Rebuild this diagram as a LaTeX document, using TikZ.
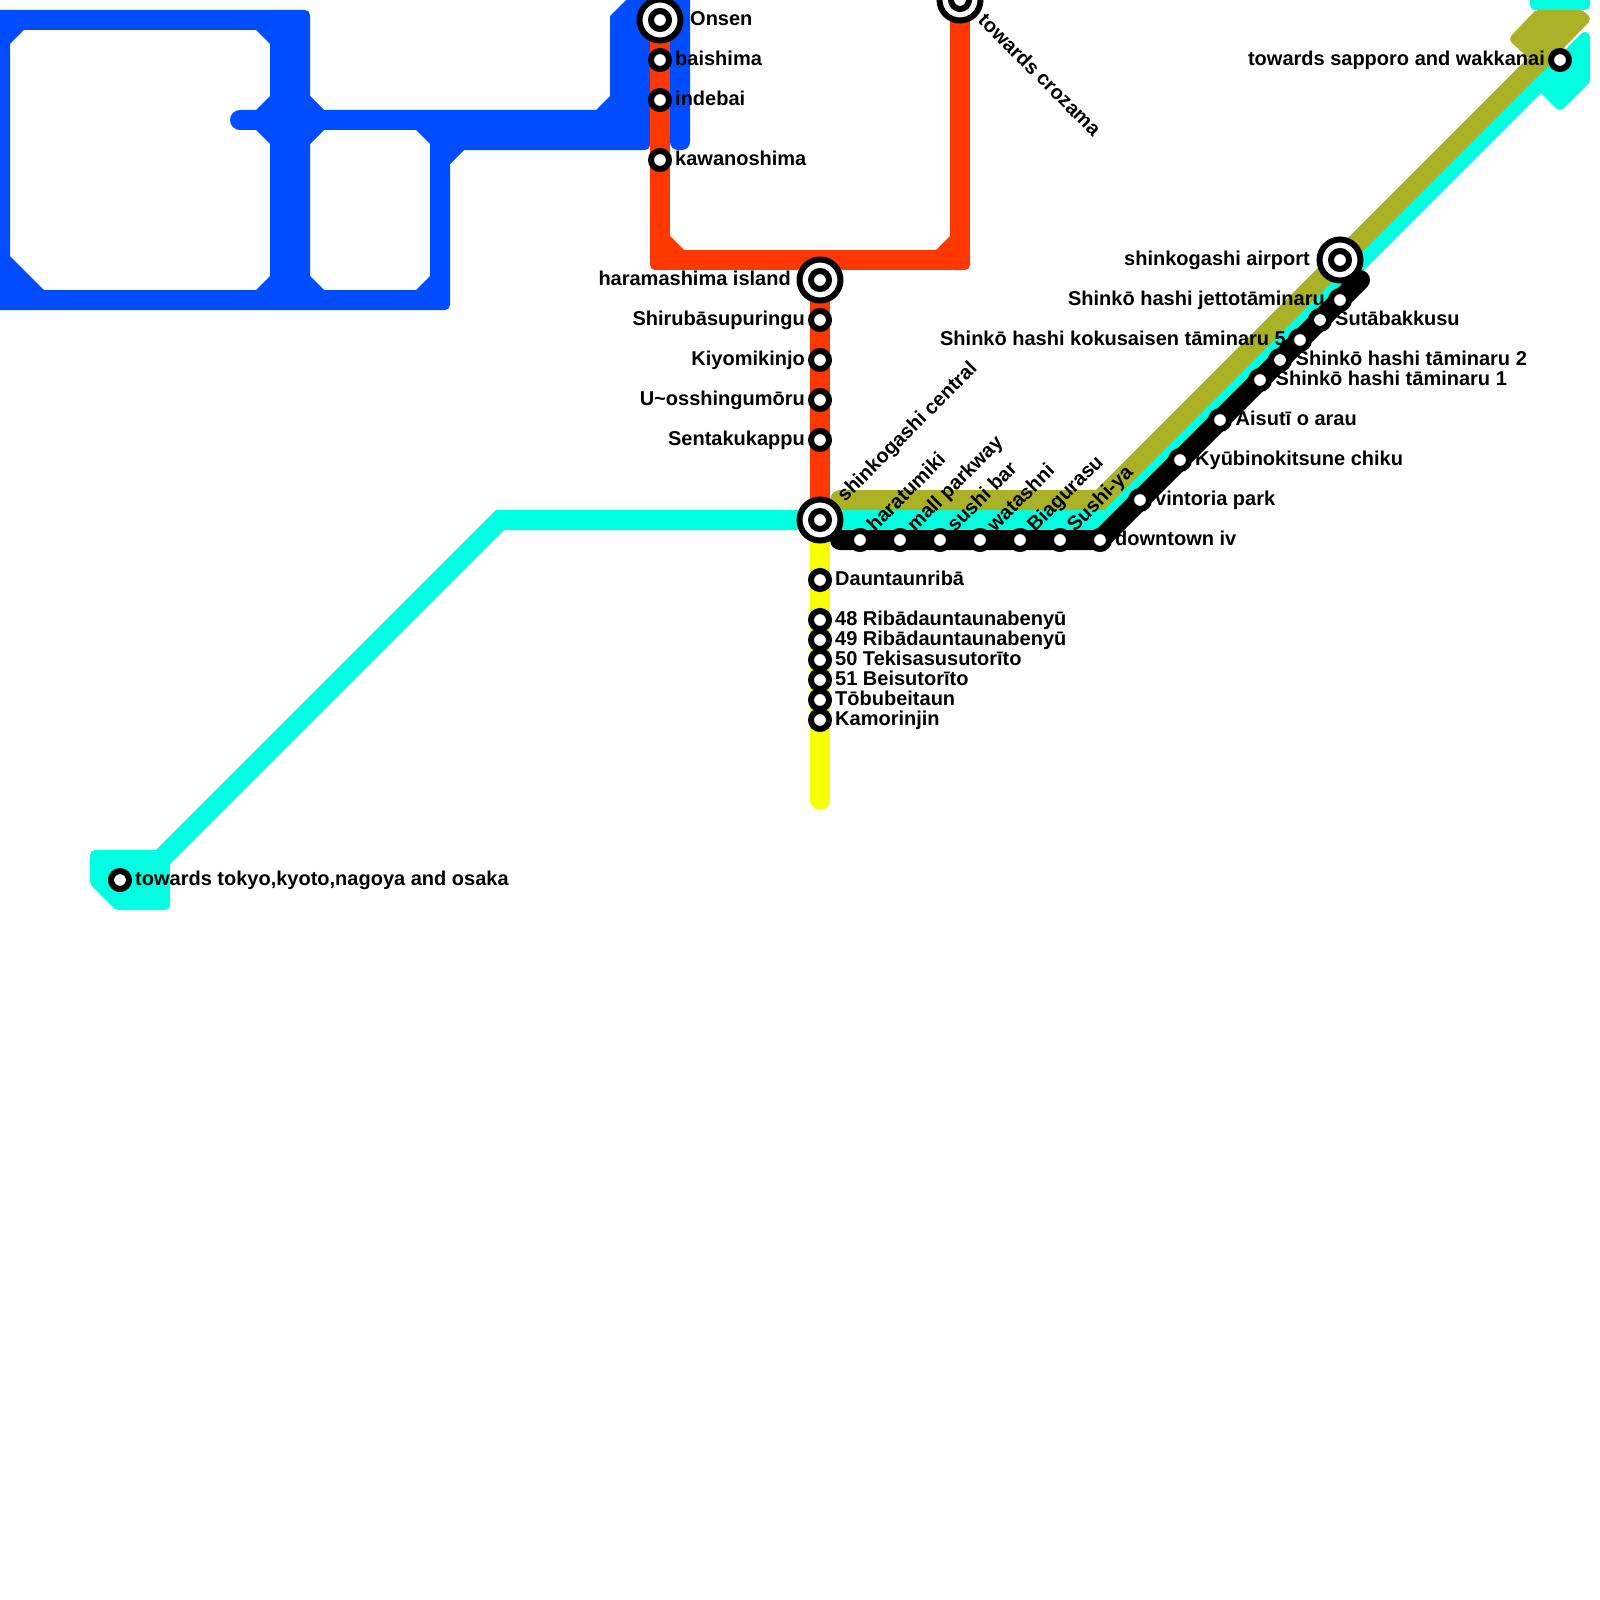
\documentclass[tikz,border=0pt]{standalone}
\usepackage{fontspec}
\setmainfont{Liberation Sans}
\pgfdeclarelayer{lines}
\pgfsetlayers{lines,main}
\definecolor{mblue}{HTML}{004DFF}
\definecolor{mred}{HTML}{FF3800}
\definecolor{mcyan}{HTML}{00FFE1}
\definecolor{molive}{HTML}{AAB126}
\definecolor{myellow}{HTML}{F8FF00}
\tikzset{
  st/.style={circle,draw=black,fill=white,line width=6pt,inner sep=0pt,minimum size=18pt},
  hub/.style={circle,draw=black,fill=white,line width=6pt,inner sep=0pt,minimum size=41pt},
  route/.style={line width=20pt,line join=miter,line cap=round},
  blob/.style={line width=10pt,line join=round},
  lab/.style={font=\fontsize{20}{20}\selectfont\bfseries,text=black,inner sep=0pt,yshift=-0.7pt},
  labr/.style={lab,anchor=base west},
  labl/.style={lab,anchor=base east},
  labup/.style={lab,anchor=base west,rotate=45},
  labdn/.style={lab,anchor=base west,rotate=-45}
}
\newcommand{\elbow}[5]{%
  \fill[#1,rounded corners=5pt] ({#2-10},{#3-10}) rectangle ({#2+10},{#3+10});
  \fill[#1] ({#2-#4*10},{#3-#5*10}) -- ({#2-#4*10},{#3-#5*24}) -- ({#2-#4*24},{#3-#5*10}) -- cycle;
}
\begin{document}
\begin{tikzpicture}[x=1pt,y=-1pt]
\useasboundingbox (0,0) rectangle (1600,1600);

% stations
\node[hub] (onsen) at (660,20) {};
\node[st] (onsenin) at (660,20) {};
\node[st] (baishima) at (660,60) {};
\node[st] (indebai) at (660,100) {};
\node[st] (kawanoshima) at (660,160) {};
\node[hub] (crozama) at (960,0) {};
\node[st] (crozamain) at (960,0) {};
\node[hub] (haramashima) at (820,280) {};
\node[st] (haramashimain) at (820,280) {};
\node[st] (shiru) at (820,320) {};
\node[st] (kiyomi) at (820,360) {};
\node[st] (uoss) at (820,400) {};
\node[st] (senta) at (820,440) {};
\node[hub] (central) at (820,520) {};
\node[st] (centralin) at (820,520) {};
\node[st] (daun) at (820,580) {};
\node[st] (s48) at (820,620) {};
\node[st] (s49) at (820,640) {};
\node[st] (s50) at (820,660) {};
\node[st] (s51) at (820,680) {};
\node[st] (tobu) at (820,700) {};
\node[st] (kamo) at (820,720) {};
\node[st] (haratumiki) at (860,540) {};
\node[st] (mall) at (900,540) {};
\node[st] (sushibar) at (940,540) {};
\node[st] (watashni) at (980,540) {};
\node[st] (biagurasu) at (1020,540) {};
\node[st] (sushiya) at (1060,540) {};
\node[st] (downtown) at (1100,540) {};
\node[st] (vintoria) at (1140,500) {};
\node[st] (kyubi) at (1180,460) {};
\node[st] (aisuti) at (1220,420) {};
\node[st] (tam1) at (1260,380) {};
\node[st] (tam2) at (1280,360) {};
\node[st] (tam5) at (1300,340) {};
\node[st] (sutaba) at (1320,320) {};
\node[st] (jetto) at (1340,300) {};
\node[hub] (airport) at (1340,260) {};
\node[st] (airportin) at (1340,260) {};
\node[st] (sapporo) at (1560,60) {};
\node[st] (tokyo) at (120,880) {};

% free ends and bends
\coordinate (redsw) at (660,260);
\coordinate (redmid) at (820,260);
\coordinate (redse) at (960,260);
\coordinate (cyanbend) at (500,520);
\coordinate (cyanend) at (160,860);
\coordinate (cyanelbow) at (1100,520);
\coordinate (olivestart) at (840,500);
\coordinate (olivebend) at (1100,500);
\coordinate (oliveend) at (1540,60);
\coordinate (blackstart) at (840,540);
\coordinate (blackend) at (1360,280);
\coordinate (yellowend) at (820,800);

\begin{pgfonlayer}{lines}
\fill[white] (0,0) rectangle (1600,1600);
% blue network
\fill[mblue,even odd rule]
  (-20,10) [rounded corners=5pt] -- (310,10) [sharp corners] -- (310,96) -- (324,110) -- (596,110) -- (610,96) -- (610,16) -- (631,-5) -- (690,-5)
  [rounded corners=8pt] -- (690,150) -- (670,150) [sharp corners] -- (670,100) -- (650,100)
  [rounded corners=5pt] -- (650,150) [sharp corners] -- (464,150) -- (450,164)
  [rounded corners=5pt] -- (450,310) [sharp corners] -- (-20,310) -- cycle
  (10,44) -- (24,30) -- (256,30) -- (270,44) -- (270,276) -- (256,290) -- (44,290) -- (10,256) -- cycle
  (310,144) -- (324,130) -- (416,130) -- (430,144) -- (430,276) -- (416,290) -- (324,290) -- (310,276) -- cycle;
\fill[mblue] (272,95) -- (270,96) -- (256,110) -- (240,110) arc[start angle=90,end angle=270,radius=10pt] -- (256,130) -- (270,144) -- (272,146) -- cycle;

% cyan line
\path[fill=mcyan,draw=mcyan,blob] (95,855) -- (155,855) -- (165,865) -- (165,905) -- (118,905) -- (95,882) -- cycle;
\path[fill=mcyan,draw=mcyan,blob] (1545,90) -- (1560,105) -- (1585,80) -- (1585,37) -- (1555,67) -- cycle;
\fill[mcyan,rounded corners=5pt] (1530,-20) rectangle (1590,10);
\draw[route,mcyan] (cyanend) -- (cyanbend) -- (central.center) -- (cyanelbow) -- (sapporo.center);

% olive line
\path[fill=molive,draw=molive,blob] (1515,39) -- (1538,15) -- (1580,15) -- (1585,19) -- (1550,55) -- (1535,57) -- cycle;
\draw[route,molive] (olivestart) -- (olivebend) -- (oliveend);

% yellow line
\draw[route,myellow] (central.center) -- (daun.center) -- (kamo.center) -- (yellowend);

% red line
\draw[route,mred,line join=round] (onsen.center) -- (redsw) -- (redmid) -- (redse) -- (crozama.center);
\elbow{mred}{660}{260}{-1}{1}
\elbow{mred}{960}{260}{1}{1}
\draw[mred,line width=20pt] (redmid) -- (haramashima.center) -- (central.center);

% black line
\draw[route,black] (blackstart) -- (downtown.center) -- (blackend);
\end{pgfonlayer}

% labels
\node[labr] (lonsen) at (690,24.5) {Onsen};
\node[labr] (lbaishima) at (675,65) {baishima};
\node[labr] (lindebai) at (675,105) {indebai};
\node[labr] (lkawa) at (675,164.5) {kawanoshima};
\node[labdn] (lcroz) at (977,21) {towards crozama};
\node[labl] (lhara) at (791,284.5) {haramashima island};
\node[labl] (lshiru) at (805,324.5) {Shirubāsupuringu};
\node[labl] (lkiyo) at (805,364.5) {Kiyomikinjo};
\node[labl] (luoss) at (805,404.5) {U\char`\~osshingumōru};
\node[labl] (lsenta) at (805,444.5) {Sentakukappu};
\node[labup] (lcentral) at (845,502) {shinkogashi central};
\node[labup] (lharatu) at (875,532) {haratumiki};
\node[labup] (lmall) at (915,532) {mall parkway};
\node[labup] (lbar) at (955,532) {sushi bar};
\node[labup] (lwata) at (995,532) {watashni};
\node[labup] (lbiag) at (1035,532) {Biagurasu};
\node[labup] (lsushi) at (1075,532) {Sushi-ya};
\node[labr] (ldaun) at (835,584.5) {Dauntaunribā};
\node[labr] (l48) at (835,624.5) {48 Ribādauntaunabenyū};
\node[labr] (l49) at (835,644.5) {49 Ribādauntaunabenyū};
\node[labr] (l50) at (835,664.5) {50 Tekisasusutorīto};
\node[labr] (l51) at (835,684.5) {51 Beisutorīto};
\node[labr] (ltobu) at (835,704.5) {Tōbubeitaun};
\node[labr] (lkamo) at (835,724.5) {Kamorinjin};
\node[labr] (ldown) at (1115,544.5) {downtown iv};
\node[labr] (lvint) at (1155,504.5) {vintoria park};
\node[labr] (lkyubi) at (1195,464.5) {Kyūbinokitsune chiku};
\node[labr] (lais) at (1235.5,424.5) {Aisutī o arau};
\node[labr] (lt1) at (1275.5,384.5) {Shinkō hashi tāminaru 1};
\node[labr] (lt2) at (1295.5,364.5) {Shinkō hashi tāminaru 2};
\node[labl] (lt5) at (1286,344.5) {Shinkō hashi kokusaisen tāminaru 5};
\node[labr] (lsuta) at (1335,324.5) {Sutābakkusu};
\node[labl] (ljet) at (1325,304.5) {Shinkō hashi jettotāminaru};
\node[labl] (lair) at (1310,264.5) {shinkogashi airport};
\node[labl] (lsap) at (1545,64.5) {towards sapporo and wakkanai};
\node[labr] (ltok) at (135,884.5) {towards tokyo,kyoto,nagoya and osaka};
\end{tikzpicture}
\end{document}
